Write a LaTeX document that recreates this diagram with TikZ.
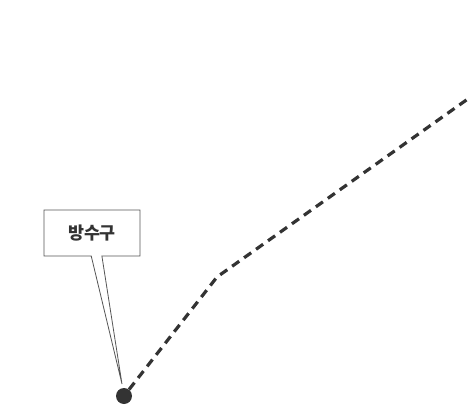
\documentclass[tikz,border=0pt]{standalone}
\usepackage{fontspec}
\newfontfamily\krfont{Noto Sans CJK KR}
\usetikzlibrary{positioning,shapes.callouts}
\definecolor{inkgray}{RGB}{51,51,51}
\definecolor{framegray}{RGB}{85,85,85}

\begin{document}
\begin{tikzpicture}[x=0.75pt,y=-0.75pt,
        outlet/.style={circle,fill=inkgray,minimum size=12pt,inner sep=0pt},
        tag/.style={rectangle callout,draw=framegray,line width=0.6pt,fill=white,
                    minimum width=72pt,minimum height=34.5pt,inner sep=0pt,
                    font=\krfont\bfseries\fontsize{13}{15}\selectfont,text=inkgray,
                    callout pointer width=8pt},
        route/.style={draw=inkgray,line width=2.4pt,dash pattern=on 6.5pt off 4.5pt}]
        \useasboundingbox (0,0) rectangle (468,414);
        \clip (0,0) rectangle (468,414);
        \node[outlet] (valve) at (124,396) {};
        \coordinate (bend) at (217,277);
        \coordinate (far) at (472,96);
        \draw[route] (valve) -- (bend) -- (far);
        \node[tag,callout absolute pointer={(122,384)}] (label) at (92,233) {방수구};
    \end{tikzpicture}
\end{document}
